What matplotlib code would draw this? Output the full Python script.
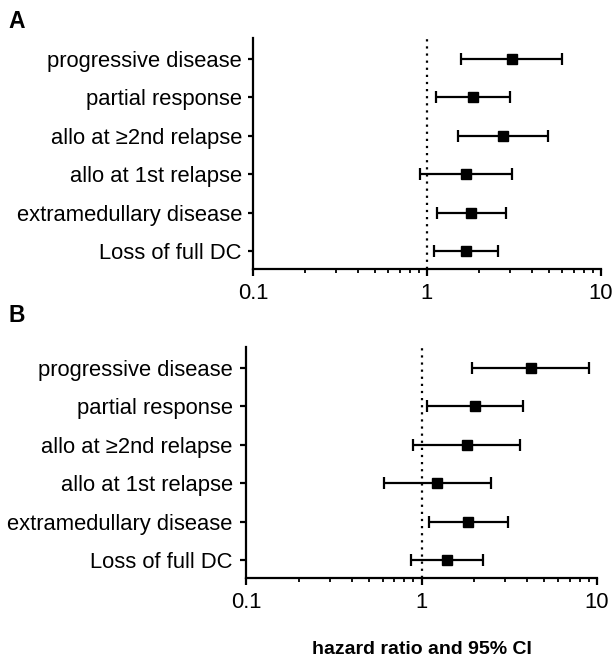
import matplotlib
matplotlib.use("Agg")
import matplotlib.pyplot as plt
import numpy as np

plt.rcParams['font.family'] = ['Liberation Sans', 'DejaVu Sans']

categories = ["progressive disease", "partial response", "allo at \u22652nd relapse",
              "allo at 1st relapse", "extramedullary disease", "Loss of full DC"]

# Panel A
hr_a = [3.06, 1.84, 2.74, 1.67, 1.78, 1.68]
lo_a = [1.56, 1.13, 1.51, 0.91, 1.14, 1.10]
hi_a = [5.93, 2.99, 4.97, 3.08, 2.83, 2.56]

# Panel B
hr_b = [4.20, 2.02, 1.81, 1.23, 1.85, 1.39]
lo_b = [1.94, 1.08, 0.90, 0.61, 1.10, 0.87]
hi_b = [8.95, 3.78, 3.65, 2.48, 3.11, 2.25]

xticks = [0.1, 1, 10]
xticklabels = ["0.1", "1", "10"]

fig = plt.figure(figsize=(6.13, 6.62), dpi=100)
W, H = 613, 662

def make_ax(left, right, top, bottom):
    return fig.add_axes([left / W, 1 - bottom / H, (right - left) / W, (bottom - top) / H])

ax_a = make_ax(253, 601, 38, 269)
ax_b = make_ax(246, 597, 347, 578)

def draw(ax, hr, lo, hi, ylen, ypad):
    n = len(categories)
    y = np.arange(n)[::-1]
    hr = np.array(hr); lo = np.array(lo); hi = np.array(hi)
    ax.axvline(1, color='black', linestyle=(0, (1, 2.2)), linewidth=1.6, zorder=1)
    ax.errorbar(hr, y, xerr=[hr - lo, hi - hr], fmt='s', color='black',
                markersize=7.5, elinewidth=1.6, capsize=4.5, capthick=1.6, zorder=3)
    ax.set_xscale('log')
    ax.set_xlim(0.1, 10)
    ax.set_ylim(-0.47, n - 0.45)
    ax.set_yticks(y)
    ax.set_yticklabels(categories, fontsize=15.8)
    ax.set_xticks(xticks)
    ax.set_xticklabels(xticklabels, fontsize=15.8)
    ax.xaxis.set_minor_locator(matplotlib.ticker.LogLocator(base=10, subs=np.arange(2, 10)))
    ax.xaxis.set_minor_formatter(matplotlib.ticker.NullFormatter())
    for s in ['top', 'right']:
        ax.spines[s].set_visible(False)
    for s in ['left', 'bottom']:
        ax.spines[s].set_linewidth(1.6)
    ax.tick_params(axis='x', which='major', length=5, width=1.6, pad=5)
    ax.tick_params(axis='x', which='minor', length=3, width=1.3)
    ax.tick_params(axis='y', which='major', length=ylen, width=1.6, pad=ypad)

draw(ax_a, hr_a, lo_a, hi_a, 3.5, 4.5)
draw(ax_b, hr_b, lo_b, hi_b, 4.5, 5)

fig.text(8 / W, 1 - 22 / H, "A", fontsize=16.5, fontweight='bold', va='center', ha='left')
fig.text(8 / W, 1 - 315 / H, "B", fontsize=16.5, fontweight='bold', va='center', ha='left')
fig.text(422 / W, 1 - 650 / H, "hazard ratio and 95% CI", fontsize=14,
         fontweight='bold', va='center', ha='center')

fig.savefig("out.png", dpi=100)
